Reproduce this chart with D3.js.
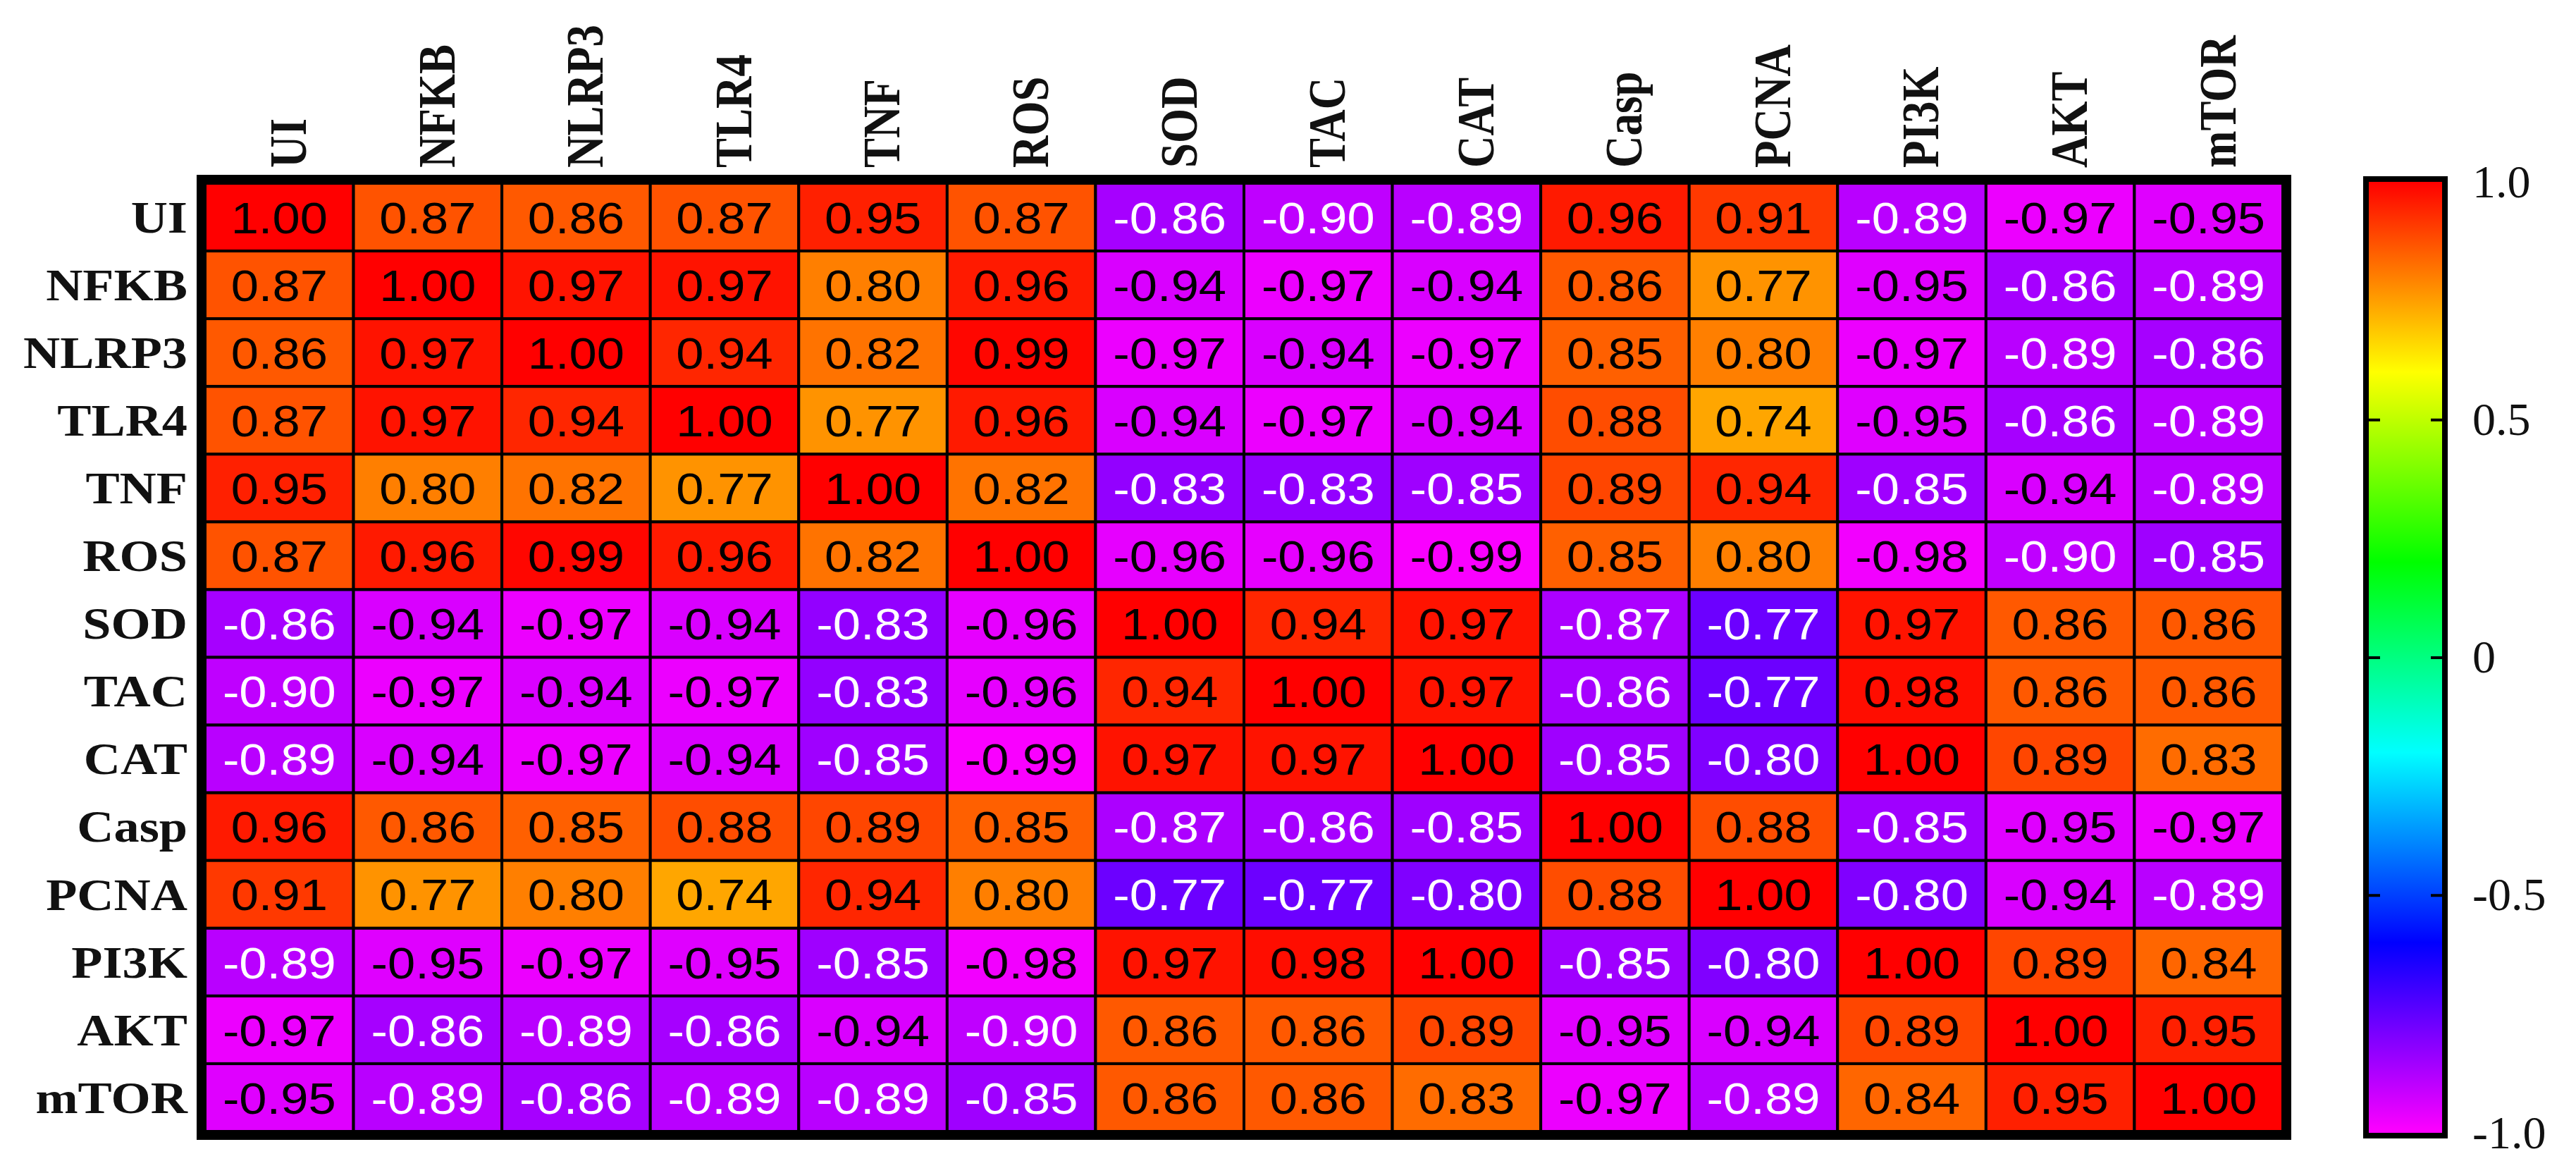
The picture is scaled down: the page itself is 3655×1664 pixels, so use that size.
<!DOCTYPE html>
<html lang="en">
<head>
  <meta charset="UTF-8">
  <title>Correlation heatmap</title>
  <script src="https://cdn.jsdelivr.net/npm/d3@7"></script>
<style>
  body { margin: 0; background: #fff; }
  .lab { font-family: "Liberation Serif", "Times New Roman", serif; font-weight: bold; fill: #111; }
  .num { font-family: "Liberation Sans", Arial, sans-serif; }
  .cb text { font-family: "Liberation Serif", "Times New Roman", serif; font-size: 66px; fill: #111; }
</style>
</head>

<body>
  <script>
    var labels = ['UI', 'NFKB', 'NLRP3', 'TLR4', 'TNF', 'ROS', 'SOD', 'TAC', 'CAT', 'Casp', 'PCNA', 'PI3K', 'AKT', 'mTOR'];

    var rowUI    = [ 1.00,  0.87,  0.86,  0.87,  0.95,  0.87, -0.86, -0.90, -0.89,  0.96,  0.91, -0.89, -0.97, -0.95];
    var rowNFKB  = [ 0.87,  1.00,  0.97,  0.97,  0.80,  0.96, -0.94, -0.97, -0.94,  0.86,  0.77, -0.95, -0.86, -0.89];
    var rowNLRP3 = [ 0.86,  0.97,  1.00,  0.94,  0.82,  0.99, -0.97, -0.94, -0.97,  0.85,  0.80, -0.97, -0.89, -0.86];
    var rowTLR4  = [ 0.87,  0.97,  0.94,  1.00,  0.77,  0.96, -0.94, -0.97, -0.94,  0.88,  0.74, -0.95, -0.86, -0.89];
    var rowTNF   = [ 0.95,  0.80,  0.82,  0.77,  1.00,  0.82, -0.83, -0.83, -0.85,  0.89,  0.94, -0.85, -0.94, -0.89];
    var rowROS   = [ 0.87,  0.96,  0.99,  0.96,  0.82,  1.00, -0.96, -0.96, -0.99,  0.85,  0.80, -0.98, -0.90, -0.85];
    var rowSOD   = [-0.86, -0.94, -0.97, -0.94, -0.83, -0.96,  1.00,  0.94,  0.97, -0.87, -0.77,  0.97,  0.86,  0.86];
    var rowTAC   = [-0.90, -0.97, -0.94, -0.97, -0.83, -0.96,  0.94,  1.00,  0.97, -0.86, -0.77,  0.98,  0.86,  0.86];
    var rowCAT   = [-0.89, -0.94, -0.97, -0.94, -0.85, -0.99,  0.97,  0.97,  1.00, -0.85, -0.80,  1.00,  0.89,  0.83];
    var rowCasp  = [ 0.96,  0.86,  0.85,  0.88,  0.89,  0.85, -0.87, -0.86, -0.85,  1.00,  0.88, -0.85, -0.95, -0.97];
    var rowPCNA  = [ 0.91,  0.77,  0.80,  0.74,  0.94,  0.80, -0.77, -0.77, -0.80,  0.88,  1.00, -0.80, -0.94, -0.89];
    var rowPI3K  = [-0.89, -0.95, -0.97, -0.95, -0.85, -0.98,  0.97,  0.98,  1.00, -0.85, -0.80,  1.00,  0.89,  0.84];
    var rowAKT   = [-0.97, -0.86, -0.89, -0.86, -0.94, -0.90,  0.86,  0.86,  0.89, -0.95, -0.94,  0.89,  1.00,  0.95];
    var rowmTOR  = [-0.95, -0.89, -0.86, -0.89, -0.89, -0.85,  0.86,  0.86,  0.83, -0.97, -0.89,  0.84,  0.95,  1.00];

    var matrix = [rowUI, rowNFKB, rowNLRP3, rowTLR4, rowTNF, rowROS, rowSOD, rowTAC,
                  rowCAT, rowCasp, rowPCNA, rowPI3K, rowAKT, rowmTOR];

    var barTicks = [-1, -0.5, 0, 0.5, 1];
    var barTickLabels = ['-1.0', '-0.5', '0', '0.5', '1.0'];

    var w = 3655;
    var h = 1664;

    // rainbow: red at 1 -> magenta at -1
    var hue = d3.scaleLinear().domain([-1, 1]).range([300, 0]);
    var color = v => d3.hsl(hue(v), 1, 0.5).toString();

    var cells = [];
    matrix.forEach((row, i) => row.forEach((v, j) => cells.push({r: labels[i], c: labels[j], v: v})));

    var svg = d3.select('body')
                .append('svg')
                .attr('width', w)
                .attr('height', h);

    svg.append('rect').attr('width', w).attr('height', h).attr('fill', '#fff');

    var x = d3.scaleBand().domain(labels).range([291, 3239]);
    var y = d3.scaleBand().domain(labels).range([260, 1605]);

    svg.selectAll('rect.cell')
      .data(cells)
      .enter()
      .append('rect')
      .attr('class', 'cell')
      .attr('x', d => x(d.c))
      .attr('y', d => y(d.r))
      .attr('width', x.bandwidth())
      .attr('height', y.bandwidth())
      .attr('fill', d => color(d.v))
      .attr('stroke', '#000')
      .attr('stroke-width', 4);

    svg.selectAll('text.num')
      .data(cells)
      .enter()
      .append('text')
      .attr('class', 'num')
      .attr('transform', d => `translate(${x(d.c) + x.bandwidth() / 2},${y(d.r) + y.bandwidth() / 2}) scale(1.12,1)`)
      .attr('dy', '0.36em')
      .attr('text-anchor', 'middle')
      .attr('font-size', '63px')
      .attr('fill', d => (d.v > 0 || d.v < -0.92) ? '#000' : '#fff')
      .text(d => d.v.toFixed(2));

    // heavy frame round the matrix
    svg.append('rect')
      .attr('x', x.range()[0] - 6)
      .attr('y', y.range()[0] - 6)
      .attr('width', x.range()[1] - x.range()[0] + 12)
      .attr('height', y.range()[1] - y.range()[0] + 12)
      .attr('fill', 'none')
      .attr('stroke', '#000')
      .attr('stroke-width', 12);

    // row labels
    svg.selectAll('text.rowlab')
      .data(labels)
      .enter()
      .append('text')
      .attr('class', 'lab')
      .attr('transform', d => `translate(266,${y(d) + y.bandwidth() / 2}) scale(1.13,1)`)
      .attr('dy', '0.34em')
      .attr('text-anchor', 'end')
      .attr('font-size', '64px')
      .text(d => d);

    // column labels, rotated
    svg.selectAll('text.collab')
      .data(labels)
      .enter()
      .append('text')
      .attr('class', 'lab')
      .attr('transform', d => `translate(${x(d) + x.bandwidth() / 2 + 13},238) scale(1.16,1) rotate(-90)`)
      .attr('dy', '0.34em')
      .attr('text-anchor', 'start')
      .attr('font-size', '63px')
      .text(d => d);

    // colour bar
    var cy = d3.scaleLinear().domain([-1, 1]).range([1607, 258]);
    var bx0 = 3361, bx1 = 3465;

    var grad = svg.append('defs').append('linearGradient')
      .attr('id', 'cbar')
      .attr('x1', 0).attr('y1', 1).attr('x2', 0).attr('y2', 0);
    grad.selectAll('stop')
      .data(d3.range(0, 41).map(k => -1 + k * 0.05))
      .enter()
      .append('stop')
      .attr('offset', d => (d + 1) / 2)
      .attr('stop-color', d => color(d));

    svg.append('rect')
      .attr('x', bx0)
      .attr('y', cy(1))
      .attr('width', bx1 - bx0)
      .attr('height', cy(-1) - cy(1))
      .attr('fill', 'url(#cbar)');

    svg.append('rect')
      .attr('x', bx0 - 4)
      .attr('y', cy(1) - 4)
      .attr('width', bx1 - bx0 + 8)
      .attr('height', cy(-1) - cy(1) + 8)
      .attr('fill', 'none')
      .attr('stroke', '#000')
      .attr('stroke-width', 8);

    // inner tick marks on both edges
    var innerTicks = [-0.5, 0, 0.5];
    var leftTicks = svg.append('g')
      .attr('transform', `translate(${bx0},0)`)
      .call(d3.axisRight(cy).tickValues(innerTicks).tickSize(16).tickFormat(''));
    var rightTicks = svg.append('g')
      .attr('transform', `translate(${bx1},0)`)
      .call(d3.axisLeft(cy).tickValues(innerTicks).tickSize(16).tickFormat(''));
    [leftTicks, rightTicks].forEach(g => {
      g.select('.domain').remove();
      g.selectAll('line').attr('stroke', '#000').attr('stroke-width', 4);
    });

    var cbAxis = svg.append('g')
      .attr('class', 'cb')
      .attr('transform', 'translate(3508,0)')
      .call(d3.axisRight(cy).tickValues(barTicks).tickSize(0).tickPadding(0)
        .tickFormat((d, i) => barTickLabels[i]));
    cbAxis.select('.domain').remove();
    cbAxis.attr('font-size', null).attr('font-family', null);
  </script>
</body>
</html>
